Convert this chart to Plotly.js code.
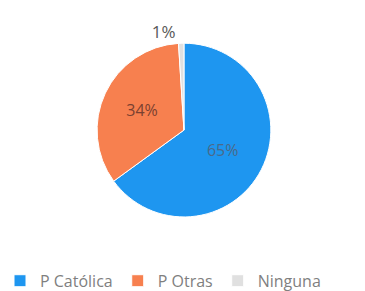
<!DOCTYPE html>
<html>
<head>
<meta charset="utf-8">
<script src="https://cdn.plot.ly/plotly-3.0.1.min.js"></script>
<style>html,body{margin:0;padding:0;background:#fff;}#chart{width:365px;height:291px;}</style>
</head>
<body>
<div id="chart"></div>
<script>
const labels = ["P Católica", "P Otras", "Ninguna"];
const values = [65, 34, 1];
const colors = ["#1E96F0", "#F7804F", "#E0E0E0"];

const data = [{
  type: "pie",
  labels: labels,
  values: values,
  sort: false,
  direction: "clockwise",
  rotation: 0,
  marker: {colors: colors, line: {color: "#ffffff", width: 1}},
  textinfo: "percent",
  textposition: ["inside", "inside", "outside"],
  insidetextorientation: "horizontal",
  insidetextfont: {family: "Open Sans, sans-serif", size: 16, color: ["#4a6a8a", "#7a4030", "#595959"]},
  outsidetextfont: {family: "Open Sans, sans-serif", size: 17, color: "#595959"},
  hoverinfo: "label+percent",
  domain: {x: [0.266, 0.742], y: [0.254, 0.852]}
}];

const layout = {
  width: 365,
  height: 291,
  margin: {l: 0, r: 0, t: 0, b: 0, autoexpand: false},
  paper_bgcolor: "#ffffff",
  showlegend: true,
  legend: {
    orientation: "h",
    x: 0.0, xanchor: "left",
    y: 0.035, yanchor: "middle",
    font: {family: "Open Sans, sans-serif", size: 16, color: "#7f7f7f"},
    itemwidth: 30
  }
};

Plotly.newPlot("chart", data, layout, {staticPlot: true});
</script>
</body>
</html>
